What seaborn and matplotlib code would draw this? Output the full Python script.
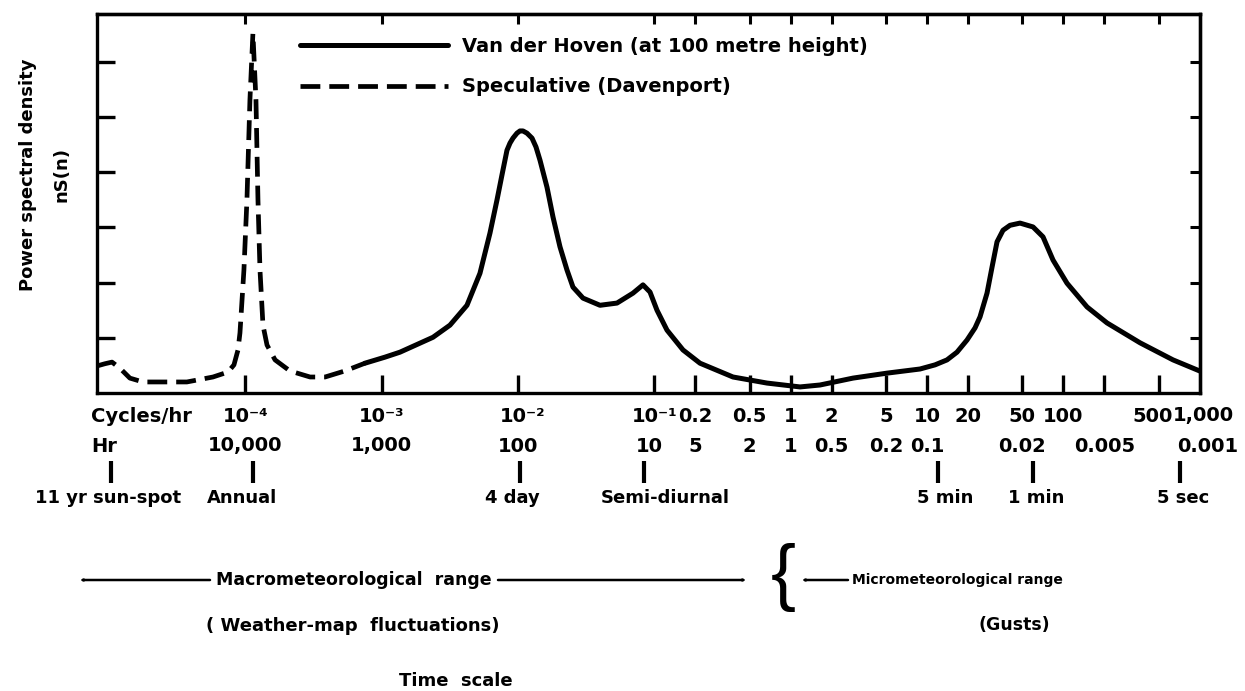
import matplotlib
matplotlib.use("Agg")
import matplotlib.pyplot as plt
import matplotlib.transforms as mtransforms
from matplotlib.patches import FancyArrowPatch
from matplotlib.ticker import NullLocator
import seaborn as sns

# Van der Hoven spectrum at 100 m height: frequency (cycles/hr) and relative nS(n)
vdh_freq = [7.53e-4, 1.057e-3, 1.361e-3, 2.377e-3, 3.167e-3, 4.22e-3, 5.256e-3, 6.226e-3,
            7.01e-3, 7.62e-3, 8.296e-3, 8.73e-3, 9.181e-3, 9.824e-3, 1.033e-2, 1.087e-2,
            1.163e-2, 1.266e-2, 1.354e-2, 1.449e-2, 1.631e-2,
            1.805e-2, 2.031e-2, 2.286e-2, 2.529e-2, 2.996e-2, 3.993e-2, 5.321e-2, 6.971e-2,
            8.253e-2, 9.292e-2, 0.1046, 0.1238, 0.1623, 0.2163, 0.3776, 0.6707, 1.171, 1.642,
            2.867, 5.091, 8.892, 11.46, 14.03, 16.61, 19.67, 22.52, 24.5, 27.58, 30.01, 32.66,
            36.14, 40.67, 48.16, 59.99, 71.02, 84.1, 106.5, 149.4, 209.4, 365.6, 638.6, 1000.0]
vdh_power = [0.54, 0.65, 0.74, 1.01, 1.23, 1.59, 2.17, 2.90,
             3.50, 3.95, 4.40, 4.53, 4.62, 4.71, 4.75, 4.75,
             4.71, 4.62, 4.46, 4.22, 3.73,
             3.19, 2.65, 2.23, 1.92, 1.72, 1.59, 1.63, 1.81,
             1.96, 1.83, 1.50, 1.14, 0.78, 0.54, 0.29, 0.18, 0.11, 0.145,
             0.27, 0.36, 0.435, 0.51, 0.60, 0.74, 0.96, 1.18, 1.38, 1.81, 2.28, 2.74,
             2.95, 3.04, 3.08, 3.01, 2.83, 2.41, 1.99, 1.56, 1.27, 0.91, 0.60, 0.40]

# Speculative low-frequency extension (Davenport)
dav_freq = [8.15e-6, 9.3e-6, 1.05e-5, 1.2e-5, 1.42e-5, 1.77e-5, 3.72e-5, 5.78e-5, 7.45e-5,
            8.24e-5, 8.82e-5, 9.12e-5, 9.75e-5, 1.026e-4, 1.079e-4, 1.135e-4, 1.195e-4,
            1.236e-4, 1.279e-4, 1.345e-4, 1.44e-4, 1.65e-4, 2.12e-4, 2.98e-4, 3.84e-4,
            5.37e-4, 7.53e-4]
dav_power = [0.49, 0.53, 0.56, 0.45, 0.27, 0.20, 0.20, 0.29, 0.38,
             0.51, 0.78, 1.09, 2.23, 3.50, 5.31, 6.52, 5.31,
             3.50, 2.23, 1.23, 0.87, 0.60, 0.40, 0.29, 0.29,
             0.40, 0.54]

# Frequency axis
freq_ticks = [1e-4, 1e-3, 1e-2, 1e-1, 0.2, 0.5, 1, 2, 5, 10, 20, 50, 100, 200, 500]
cycle_values = [1e-4, 1e-3, 1e-2, 1e-1, 0.2, 0.5, 1, 2, 5, 10, 20, 50, 100, 500, 1000]
cycle_labels = ["10⁻⁴", "10⁻³", "10⁻²", "10⁻¹", "0.2", "0.5", "1", "2", "5",
                "10", "20", "50", "100", "500", "1,000"]
hour_values = [10000, 1000, 100, 10, 5, 2, 1, 0.5, 0.2, 0.1, 0.02, 0.005, 0.001]
hour_labels = ["10,000", "1,000", "100", "10", "5", "2", "1", "0.5", "0.2", "0.1",
               "0.02", "0.005", "0.001"]
event_names = ["11 yr sun-spot", "Annual", "4 day", "Semi-diurnal", "5 min", "1 min", "5 sec"]
event_hours = [11 * 8766, 8766, 96, 12, 5 / 60, 1 / 60, 5 / 3600]

# ---------------------------------------------------------------- layout
W, H = 1245, 691


def fx(px):
    return px / W


def fy(py):
    return 1 - py / H


sns.set_style("ticks")
ink = "black"
plt.rcParams["font.family"] = ["DejaVu Sans"]
plt.rcParams["font.weight"] = "bold"
plt.rcParams["text.color"] = ink

fig = plt.figure(figsize=(W / 100, H / 100), dpi=100)
ax = fig.add_axes([fx(97), fy(393), fx(1200) - fx(97), fy(14) - fy(393)])
ax.set_xscale("log")

sns.lineplot(x=vdh_freq, y=vdh_power, ax=ax, color=ink, lw=3.6, sort=False,
             estimator=None, label="Van der Hoven (at 100 metre height)")
sns.lineplot(x=dav_freq, y=dav_power, ax=ax, color=ink, lw=3.4, sort=False,
             estimator=None, linestyle="--", label="Speculative (Davenport)")
ax.lines[-1].set_dashes([4.2, 1.9])

ax.set_xlim(8.15e-6, 1007)
ax.set_ylim(0, 6.87)

ax.set_xticks(freq_ticks)
ax.set_xticklabels([])
ax.xaxis.set_minor_locator(NullLocator())
ax.set_yticks(range(1, 7))
ax.set_yticklabels([])
ax.tick_params(axis="both", which="major", direction="in", length=13, width=2.4,
               color=ink, top=False, right=False)
for s in ax.spines.values():
    s.set_linewidth(2.4)
    s.set_color(ink)

top = ax.secondary_xaxis("top")
top.set_xticks(freq_ticks)
top.set_xticklabels([])
top.xaxis.set_minor_locator(NullLocator())
top.tick_params(direction="in", length=7, width=2.2, color=ink)
top.spines["top"].set_linewidth(2.4)

right = ax.secondary_yaxis("right")
right.set_yticks(range(1, 7))
right.set_yticklabels([])
right.tick_params(direction="in", length=7, width=2.2, color=ink)
right.spines["right"].set_linewidth(2.4)

handles, labels = ax.get_legend_handles_labels()
leg = ax.legend(handles, labels, loc="upper left", bbox_to_anchor=(fx(300), fy(37)),
                bbox_transform=fig.transFigure, frameon=False, fontsize=14,
                handlelength=7.6, handletextpad=0.75, labelspacing=1.1,
                borderpad=0, borderaxespad=0)
for t in leg.get_texts():
    t.set_color(ink)

# ---------------------------------------------------------------- scale rows
blend = mtransforms.blended_transform_factory(ax.transData, fig.transFigure)
txt = dict(ha="center", va="center", fontweight="bold", color=ink)

cycle_nudge = {1e-2: 5, 500: -6, 1000: 4}
for v, lab in zip(cycle_values, cycle_labels):
    ax.annotate(lab, xy=(v, fy(416)), xycoords=blend, xytext=(cycle_nudge.get(v, 0), 0),
                textcoords="offset pixels", fontsize=14, annotation_clip=False, **txt)

hour_nudge = {10: -5, 0.001: 8}
for h, lab in zip(hour_values, hour_labels):
    ax.annotate(lab, xy=(1 / h, fy(446)), xycoords=blend, xytext=(hour_nudge.get(h, 0), 0),
                textcoords="offset pixels", fontsize=14, annotation_clip=False, **txt)

event_freq = [1 / h for h in event_hours]
ax.plot(event_freq, [fy(472)] * len(event_freq), transform=blend, ls="none",
        marker="|", ms=16, mew=3, color=ink, clip_on=False)
event_nudge = [-3, -11, -8, 22, 7, 3, 3]
for f, name, dx in zip(event_freq, event_names, event_nudge):
    ax.annotate(name, xy=(f, fy(498)), xycoords=blend, xytext=(dx, 0),
                textcoords="offset pixels", fontsize=13, annotation_clip=False, **txt)

fig.text(fx(91), fy(416), "Cycles/hr", ha="left", va="center", fontsize=14, color=ink)
fig.text(fx(91), fy(446), "Hr", ha="left", va="center", fontsize=14, color=ink)

fig.text(fx(28), fy(175), "Power spectral density", rotation=90, fontsize=13, **txt)
fig.text(fx(61), fy(175), "nS(n)", rotation=90, fontsize=13, **txt)

# ---------------------------------------------------------------- ranges
arrow = dict(arrowstyle="-|>,head_length=0.9,head_width=0.25", lw=1.8, color=ink,
             shrinkA=0, shrinkB=0, transform=fig.transFigure)
fig.add_artist(FancyArrowPatch((fx(210), fy(580)), (fx(78), fy(580)), **arrow))
fig.add_artist(FancyArrowPatch((fx(498), fy(580)), (fx(748), fy(580)), **arrow))
fig.add_artist(FancyArrowPatch((fx(848), fy(580)), (fx(800), fy(580)), **arrow))
fig.text(fx(354), fy(580), "Macrometeorological  range", fontsize=12.5, **txt)
fig.text(fx(353), fy(626), "( Weather-map  fluctuations)", fontsize=13, **txt)
fig.text(fx(852), fy(580), "Micrometeorological range", fontsize=10,
         ha="left", va="center", fontweight="bold", color=ink)
fig.text(fx(1014), fy(625), "(Gusts)", fontsize=12.5, **txt)
fig.text(fx(783), fy(577), "{", fontsize=54, ha="center", va="center", color=ink,
         fontweight="normal", family="Liberation Sans")
fig.text(fx(456), fy(681), "Time  scale", fontsize=13, **txt)

fig.savefig("out.png", dpi=100, facecolor="white")
